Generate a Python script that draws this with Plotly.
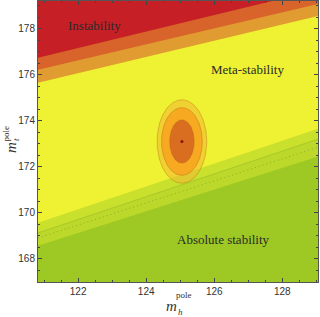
import numpy as np
import plotly.graph_objects as go

# axis ranges (GeV)
MH_RANGE = [120.82, 129.05]
MT_RANGE = [167.0, 179.2]

# boundary lines: m_t value at left and right edge of the m_h range
MH_EDGES = [120.82, 129.05]
B_RED = [176.74, 179.68]        # instability border
B_ORANGE = [176.22, 179.07]
B_LORANGE = [175.65, 178.55]    # meta-stability starts
B_YELLOW = [169.57, 173.65]     # stability border
B_SOLID = [169.13, 173.20]
B_DOTTED = [168.91, 172.85]
B_GREEN = [168.57, 172.45]

# measured point and contour half-widths (GeV)
CENTER = [125.05, 173.10]
ELL_MH = [0.73, 0.60, 0.36]
ELL_MT = [1.81, 1.47, 0.94]
ELL_COLORS = ["rgba(242,185,50,0.6)", "rgba(246,165,32,0.92)", "rgba(218,110,32,1)"]

LABELS = ["Instability", "Meta-stability", "Absolute stability"]
LABEL_POS = [(122.47, 178.13), (126.97, 176.22), (126.26, 168.83)]

fig = go.Figure()

def below(bound, color):
    xs = [MH_EDGES[0], MH_EDGES[1], MH_EDGES[1], MH_EDGES[0]]
    ys = [bound[0], bound[1], 150, 150]
    fig.add_trace(go.Scatter(x=xs, y=ys, fill="toself", fillcolor=color,
                             mode="none", hoverinfo="skip", showlegend=False))

below(B_RED, "#d8632b")
below(B_ORANGE, "#e09c31")
below(B_LORANGE, "#eff232")
below(B_YELLOW, "#c9e02d")
below(B_SOLID, "#bcd82a")
below(B_GREEN, "#9ec924")

fig.add_trace(go.Scatter(x=MH_EDGES, y=B_SOLID, mode="lines",
                         line=dict(color="#aac72c", width=1), hoverinfo="skip", showlegend=False))
fig.add_trace(go.Scatter(x=MH_EDGES, y=B_DOTTED, mode="lines",
                         line=dict(color="#8fae2a", width=1, dash="1px,3px"), hoverinfo="skip", showlegend=False))

t = np.linspace(0, 2 * np.pi, 200)
for a, b, c in zip(ELL_MH, ELL_MT, ELL_COLORS):
    fig.add_trace(go.Scatter(x=CENTER[0] + a * np.cos(t), y=CENTER[1] + b * np.sin(t),
                             fill="toself", fillcolor=c, mode="lines",
                             line=dict(color="rgba(170,95,20,0.45)", width=0.8),
                             hoverinfo="skip", showlegend=False))
fig.add_trace(go.Scatter(x=[CENTER[0]], y=[CENTER[1]], mode="markers",
                         marker=dict(color="#8b1010", size=3), hoverinfo="skip", showlegend=False))

for txt, (x, y) in zip(LABELS, LABEL_POS):
    fig.add_annotation(x=x, y=y, text=txt, showarrow=False,
                       font=dict(family="Liberation Serif", size=13, color="#2a2a2a"))

# axis titles built from pieces
def ptxt(x, y, text, size, angle=0):
    fig.add_annotation(xref="paper", yref="paper", x=x, y=y, text=text, showarrow=False,
                       textangle=angle, xanchor="center", yanchor="middle",
                       font=dict(family="Liberation Serif", size=size, color="#333"))

L, R, T, B = 38, 2, 1, 35
W, H = 320, 317
pw, ph = W - L - R, H - T - B
def px(xp): return (xp - L) / pw
def py(yp): return (H - B - yp) / ph

ptxt(px(171), py(306), "<i>m</i>", 15)
ptxt(px(184), py(295), "pole", 9)
ptxt(px(180), py(312), "<i>h</i>", 9)
ptxt(px(11), py(148), "<i>m</i>", 15, -90)
ptxt(px(5.5), py(134), "pole", 9, -90)
ptxt(px(16), py(140), "<i>t</i>", 9, -90)

axis_common = dict(showgrid=False, zeroline=False, showline=True, linecolor="#555",
                   linewidth=1, mirror="ticks", ticks="inside", ticklen=4, tickwidth=1,
                   tickcolor="#444", tickfont=dict(family="Liberation Sans", size=10, color="#333"),
                   minor=dict(ticks="inside", ticklen=2, dtick=0.5, tickcolor="#444"))
fig.update_xaxes(range=MH_RANGE, tickvals=[122, 124, 126, 128], **axis_common)
fig.update_yaxes(range=MT_RANGE, tickvals=[168, 170, 172, 174, 176, 178], **axis_common)

fig.update_layout(width=W, height=H, margin=dict(l=L, r=R, t=T, b=B),
                  plot_bgcolor="#c62026", paper_bgcolor="white")

fig.write_html("out.html", post_script="document.body.style.margin='0';",
               config={"displayModeBar": False, "staticPlot": True})
